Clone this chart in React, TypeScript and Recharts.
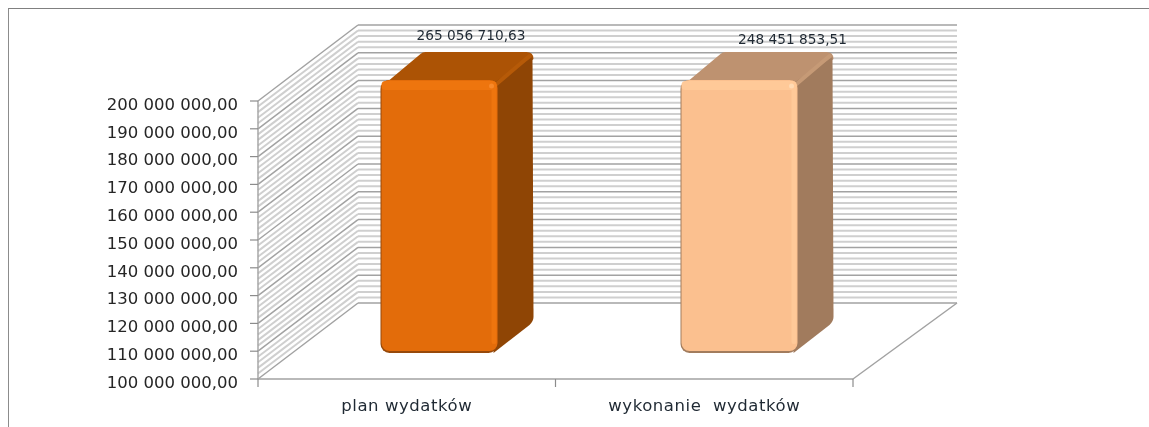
import { Bar, BarChart, CartesianGrid, LabelList, XAxis, YAxis } from 'recharts';

const categories = ['plan wydatków', 'wykonanie\u00a0\u00a0wydatków'];
const amounts = [265056710.63, 248451853.51];
const yTicks = [
  100000000, 110000000, 120000000, 130000000, 140000000, 150000000, 160000000, 170000000, 180000000,
  190000000, 200000000,
];
const yMin = 100000000;
const yMax = 200000000;

const data = categories.map((name, i) => ({ name, amount: amounts[i] }));

// the wall has four thin lines between each pair of labelled ones
const wallValues: number[] = [];
yTicks.slice(0, -1).forEach((t) => {
  for (let k = 0; k < 5; k++) wallValues.push(t + k * 2000000);
});
wallValues.push(yMax);

const TOP = 101;
const DEPTH_X = 100;
const DEPTH_Y = 76;

const palette = [
  { front: '#E36C0A', top: '#AC5305', side: '#8F4505', edge: '#97490A', light: '#EE750E', ridge: '#B65A08', spot: '#F8892A' },
  { front: '#FBC08F', top: '#BE9270', side: '#A17B5D', edge: '#A27C5D', light: '#FFC998', ridge: '#C69A76', spot: '#FFDAB4' },
];
const labelOffsets = [
  { dx: 64.5, y: 39.5 },
  { dx: 88.5, y: 44 },
];

const money = (v: number) =>
  v
    .toFixed(2)
    .replace('.', ',')
    .replace(/\B(?=(\d{3})+(?!\d))/g, ' ');

function WallLine(props: any) {
  const { x1, x2, y1, index } = props;
  const major = index % 5 === 0;
  const color = major ? '#A2A2A2' : '#CFCFCF';
  const w = major ? 1.5 : 2;
  return (
    <g key={`wall-${index}`}>
      <line x1={x1} y1={y1} x2={x1 + DEPTH_X} y2={y1 - DEPTH_Y} stroke={color} strokeWidth={w} />
      <line x1={x1 + DEPTH_X} y1={y1 - DEPTH_Y} x2={x2 + DEPTH_X + 4} y2={y1 - DEPTH_Y} stroke={color} strokeWidth={w} />
      {index === 0 && (
        <line x1={x2} y1={y1} x2={x2 + DEPTH_X + 4} y2={y1 - DEPTH_Y} stroke="#A2A2A2" strokeWidth={1.5} />
      )}
    </g>
  );
}

function BlockBar(props: any) {
  const { x, y, width, height, index } = props;
  const c = palette[index];
  const l = x + 32.5 + index * 2.5;
  const r = l + width;
  const t = Math.max(y, TOP) - 21;
  const b = y + height - 26;
  const dx = 36;
  const dy = 28;
  return (
    <g>
      <path
        d={`M${l + 3} ${t + 5} L${l + dx + 4} ${t - dy + 2} Q${l + dx + 6} ${t - dy} ${l + dx + 9} ${t - dy} L${r + dx - 7} ${t - dy} Q${r + dx} ${t - dy} ${r + dx} ${t - dy + 7} L${r} ${t + 8} Z`}
        fill={c.top}
      />
      <path
        d={`M${r - 4} ${t + 3} L${r + dx - 1} ${t - dy + 5} L${r + dx} ${b - 36} Q${r + dx} ${b - 32} ${r + dx - 4} ${b - 28} L${r - 4} ${b} Z`}
        fill={c.side}
      />
      <line x1={r - 1} y1={t + 4} x2={r + dx - 4} y2={t - dy + 4} stroke={c.ridge} strokeWidth={4} strokeLinecap="round" />
      <rect x={l} y={t} width={width} height={b - t} rx={9} fill={c.edge} />
      <rect x={l + 1} y={t} width={width - 1} height={b - t - 2} rx={8} fill={c.front} />
      <rect x={l + 1} y={t + 1} width={width - 2} height={9} rx={4} fill={c.light} />
      <rect x={r - 6} y={t + 3} width={5} height={b - t - 12} rx={2} fill={c.light} />
      <circle cx={r - 6} cy={t + 6} r={2.5} fill={c.spot} />
    </g>
  );
}

function AmountLabel(props: any) {
  const { x, width, index, value } = props;
  const o = labelOffsets[index];
  return (
    <text x={x + width / 2 + o.dx} y={o.y} textAnchor="middle" fontFamily="'DejaVu Sans'" fontSize={13.7} fill="#1F2933">
      {money(value)}
    </text>
  );
}

function CategoryTick(props: any) {
  const { x, y, payload, index } = props;
  const half = payload.offset ?? 148.75;
  return (
    <g>
      <line x1={x - half} y1={y - 8} x2={x - half} y2={y} stroke="#8C8C8C" strokeWidth={1.2} />
      {index === categories.length - 1 && (
        <line x1={x + half} y1={y - 8} x2={x + half} y2={y} stroke="#8C8C8C" strokeWidth={1.2} />
      )}
      <text
        x={x}
        y={y + 24}
        textAnchor="middle"
        fontFamily="'DejaVu Sans'"
        fontSize={16.5}
        letterSpacing={0.55}
        fill="#1F2933"
      >
        {payload.value}
      </text>
    </g>
  );
}

export default function App() {
  return (
    <div style={{ position: 'absolute', left: 0, top: 0, width: 1149, height: 427, background: '#fff', overflow: 'hidden' }}>
      <style>{`.recharts-bar, .recharts-bar * { clip-path: none !important; }`}</style>
      <div
        style={{
          position: 'absolute',
          left: 8,
          top: 8,
          width: 1141,
          height: 419,
          borderLeft: '1px solid #8C8C8C',
          borderTop: '1.5px solid #808080',
          boxSizing: 'border-box',
        }}
      />
      <BarChart
        width={1149}
        height={427}
        data={data}
        barSize={117}
        margin={{ top: TOP, right: 296, bottom: 8, left: 8 }}
        style={{ position: 'absolute', left: 0, top: 0, filter: 'blur(0.45px)' }}
      >
        <CartesianGrid horizontal={WallLine} vertical={false} horizontalValues={wallValues} />
        <XAxis
          dataKey="name"
          height={40}
          interval={0}
          tickLine={false}
          axisLine={{ stroke: '#A2A2A2', strokeWidth: 1.6 }}
          tick={CategoryTick}
        />
        <YAxis
          width={250}
          domain={[yMin, yMax]}
          allowDataOverflow
          ticks={yTicks}
          interval={0}
          tickFormatter={money}
          tickSize={8}
          tickMargin={12}
          axisLine={{ stroke: '#A2A2A2', strokeWidth: 1.4 }}
          tickLine={{ stroke: '#8C8C8C', strokeWidth: 1.2 }}
          tick={{ fontFamily: "'DejaVu Sans'", fontSize: 16.5, fill: '#262626', dy: 3 }}
        />
        <Bar dataKey="amount" shape={BlockBar} isAnimationActive={false}>
          <LabelList dataKey="amount" content={AmountLabel} />
        </Bar>
      </BarChart>
    </div>
  );
}
